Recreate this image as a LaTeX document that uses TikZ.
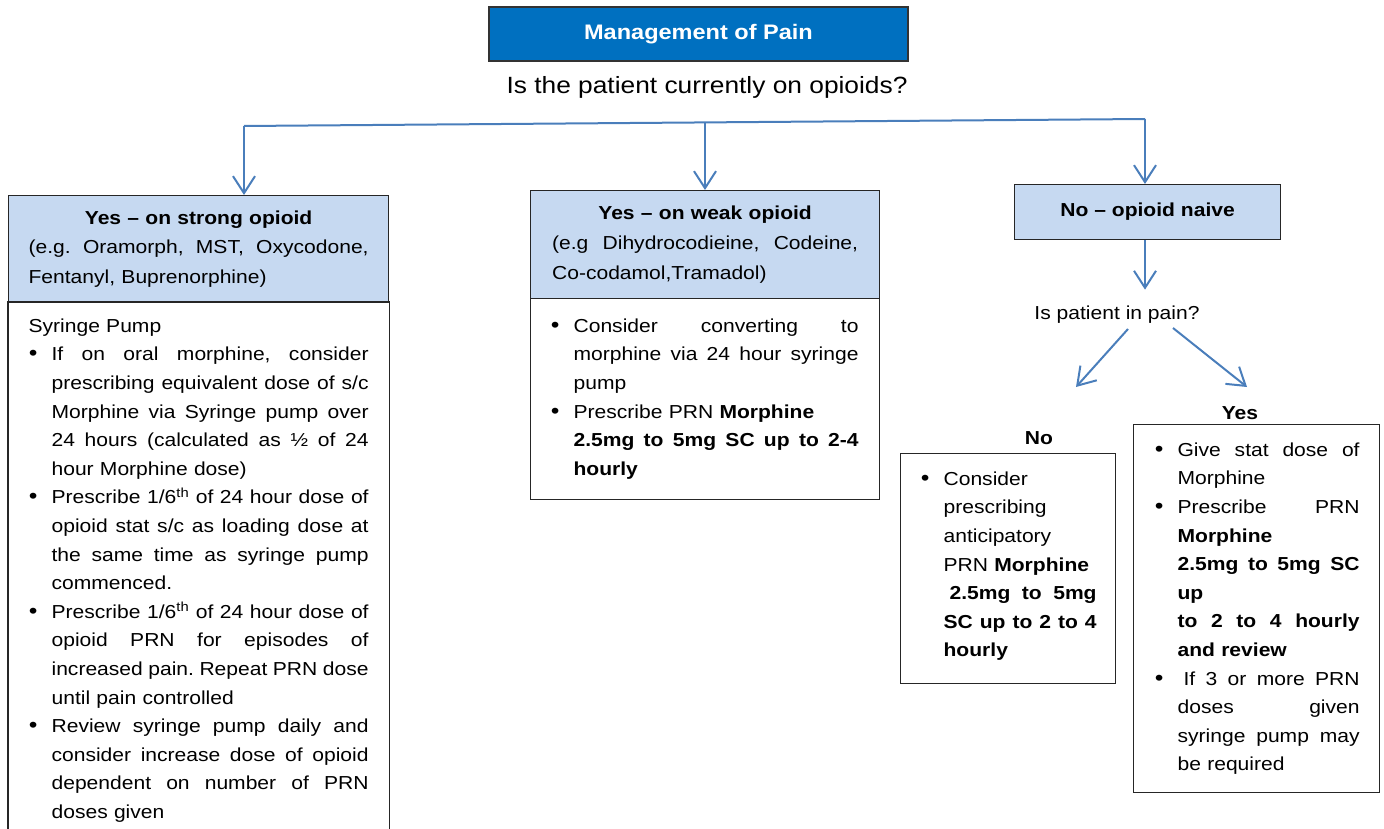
\documentclass[tikz,border=0pt]{standalone}
\usepackage{fontspec}
\setmainfont{Liberation Sans}[FakeStretch=1.12]
\usetikzlibrary{arrows.meta}

\definecolor{titleblue}{HTML}{0070C0}
\definecolor{headblue}{HTML}{C6D9F1}
\definecolor{arrowblue}{HTML}{4A7EBB}

\frenchspacing
\newcommand{\txtsize}{\fontsize{18.8}{28.6}\selectfont\parindent=0pt}
\newcommand{\headsize}{\fontsize{18.8}{29.8}\selectfont\parindent=0pt}
\newcommand{\jl}[1]{\makebox[\hsize][s]{\spaceskip=0pt\xspaceskip=0pt #1}}
\newcommand{\bul}{\leavevmode\llap{{\fontsize{22}{0}\selectfont\textbullet}\hspace{14pt}}}

\begin{document}
\begin{tikzpicture}
    [x=1pt, y=-1pt, line width=1.2pt,
     every node/.style={font=\txtsize, inner sep=0pt},
     titlebox/.style={draw=black!80, fill=titleblue, text=white, font=\fontsize{21}{25}\selectfont\bfseries, minimum width=419pt, minimum height=54pt},
     headbox/.style={draw=black!85, fill=headblue, anchor=north west, align=left, inner xsep=20pt, font=\headsize},
     bodybox/.style={draw=black!85, anchor=north west},
     bodytxt/.style={anchor=north west, align=left},
     link/.style={draw=arrowblue, line width=2pt},
     arr/.style={link, -{Straight Barb[length=17pt,width=22pt]}}]
    \useasboundingbox (0,0) rectangle (1384,829);

    \node[titlebox] (title) at (698.5,34) {Management of Pain};
    \node[font=\fontsize{23.5}{28}\selectfont] (question) at (707,87.5) {Is the patient currently on opioids?};

    % strong opioid
    \node[headbox, text width=340pt, minimum height=107pt] (stronghead) at (8,195)
      {\makebox[\hsize][c]{\bfseries Yes -- on strong opioid}\\
       \jl{(e.g. Oramorph, MST, Oxycodone,}\\
       Fentanyl, Buprenorphine)};
    \node[bodybox, minimum width=380pt, minimum height=527pt] (strongbody) at (8,302) [draw=none] {};
    \draw[draw=black!85] (strongbody.south west) |- (strongbody.north east) -- (strongbody.south east);
    \node[bodytxt, text width=317pt] (strongtxt) at (51,318)
      {\leavevmode\hspace*{-23pt}Syringe Pump\\
       \bul\jl{If on oral morphine, consider}\\
       \jl{prescribing equivalent dose of s/c}\\
       \jl{Morphine via Syringe pump over}\\
       \jl{24 hours (calculated as ½ of 24}\\
       hour Morphine dose)\\
       \bul\jl{Prescribe 1/6\textsuperscript{th} of 24 hour dose of}\\
       \jl{opioid stat s/c as loading dose at}\\
       \jl{the same time as syringe pump}\\
       commenced.\\
       \bul\jl{Prescribe 1/6\textsuperscript{th} of 24 hour dose of}\\
       \jl{opioid PRN for episodes of}\\
       \jl{increased pain. Repeat PRN dose}\\
       until pain controlled\\
       \bul\jl{Review syringe pump daily and}\\
       \jl{consider increase dose of opioid}\\
       \jl{dependent on number of PRN}\\
       doses given};

    % weak opioid
    \node[headbox, text width=306pt, inner xsep=21.5pt, minimum height=108pt] (weakhead) at (530,190)
      {\makebox[\hsize][c]{\bfseries Yes -- on weak opioid}\\
       \jl{(e.g Dihydrocodieine, Codeine,}\\
       Co-codamol,Tramadol)};
    \node[bodybox, minimum width=349pt, minimum height=201pt] (weakbody) at (530,298) {};
    \node[bodytxt, text width=285pt] (weaktxt) at (573,318)
      {\bul\jl{Consider converting to}\\
       \jl{morphine via 24 hour syringe}\\
       pump\\
       \bul Prescribe PRN \textbf{Morphine}\\
       \jl{\bfseries 2.5mg to 5mg SC up to 2-4}\\
       \textbf{hourly}};

    % opioid naive
    \node[headbox, font=\headsize\bfseries, align=center, minimum width=266pt, minimum height=55pt] (naivehead) at (1014,184) {No -- opioid naive};
    \node[inner ysep=16pt] (pain) at (1117,315) {Is patient in pain?};

    \node[font=\txtsize\bfseries] (nolabel) at (1039,438) {No};
    \node[bodybox, minimum width=215pt, minimum height=230pt] (nobox) at (900,453) {};
    \node[bodytxt, text width=153pt] (notxt) at (943,471)
      {\bul Consider\\
       prescribing\\
       anticipatory\\
       PRN \textbf{Morphine}\\
       \jl{\bfseries\hspace{6pt}2.5mg to 5mg}\\
       \jl{\bfseries SC up to 2 to 4}\\
       \textbf{hourly}};

    \node[font=\txtsize\bfseries] (yeslabel) at (1240,413) {Yes};
    \node[bodybox, minimum width=246pt, minimum height=368pt] (yesbox) at (1133,424) {};
    \node[bodytxt, text width=182pt] (yestxt) at (1177,442)
      {\bul\jl{Give stat dose of}\\
       Morphine\\
       \bul\jl{Prescribe PRN}\\
       \textbf{Morphine}\\
       \jl{\bfseries 2.5mg to 5mg SC}\\
       \textbf{up}\\
       \jl{\bfseries to 2 to 4 hourly}\\
       \textbf{and review}\\
       \bul\jl{\hspace{6pt}If 3 or more PRN}\\
       \jl{doses given}\\
       \jl{syringe pump may}\\
       be required};

    % connectors
    \coordinate (jl) at (244,126);
    \coordinate (jm) at (705,122.4);
    \coordinate (jr) at (1145,119);
    \coordinate (painl) at (1128,329);
    \coordinate (nodir) at (1076,387);
    \coordinate (painr) at (1173,328);
    \coordinate (yesdir) at (1247,387);

    \draw[link] (jl) -- (jr);
    \draw[arr] (jl) -- (jl |- stronghead.north);
    \draw[arr] (jm) -- (jm |- weakhead.north);
    \draw[arr] (jr) -- (jr |- naivehead.north);
    \draw[arr] (naivehead.south -| jr) -- (jr |- pain.north);
    \draw[arr] (painl) -- (nodir);
    \draw[arr] (painr) -- (yesdir);
\end{tikzpicture}
\end{document}
